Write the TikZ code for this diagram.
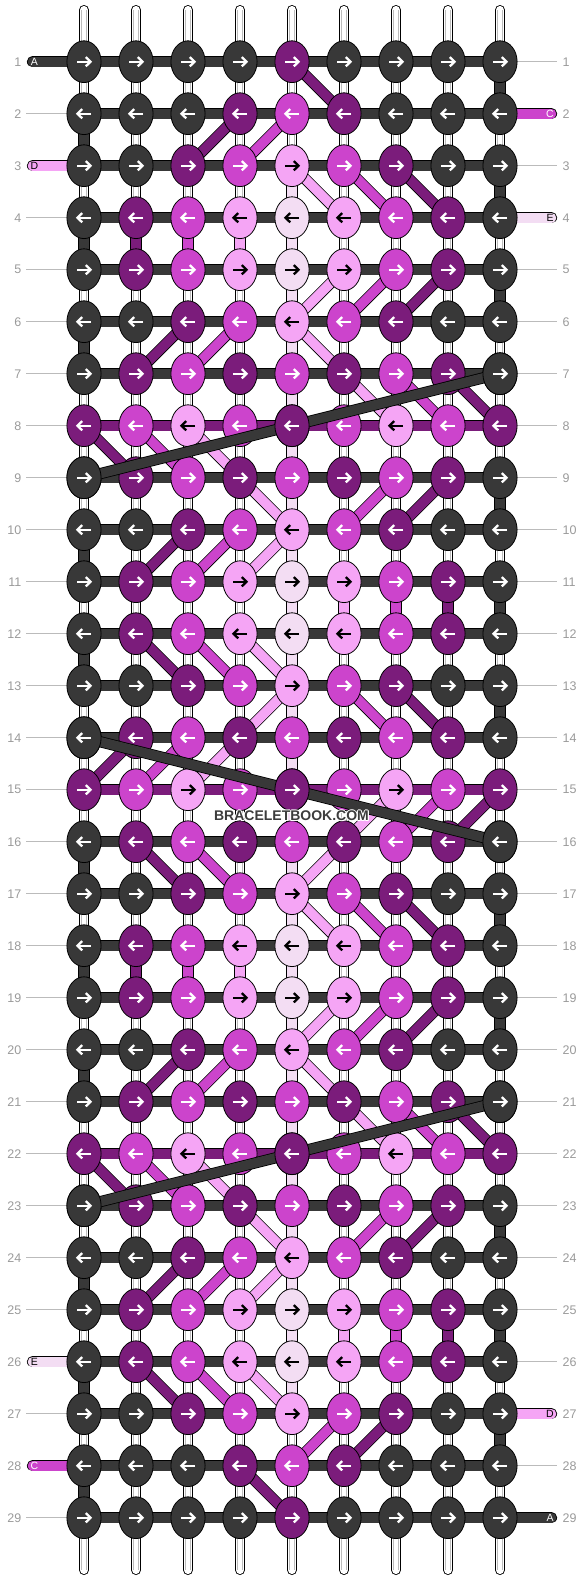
\documentclass[tikz,border=0pt]{standalone}
\usepackage{fontspec}
\setmainfont{Liberation Sans}
\usetikzlibrary{shapes.geometric}
\definecolor{cK}{HTML}{383838}
\definecolor{cP}{HTML}{7B1C7B}
\definecolor{cM}{HTML}{CC44CC}
\definecolor{cL}{HTML}{F5A5F5}
\definecolor{cW}{HTML}{F3DDF3}
\colorlet{aK}{white}
\colorlet{aP}{white}
\colorlet{aM}{white}
\colorlet{aL}{black}
\colorlet{aW}{black}
\definecolor{lblgray}{HTML}{9A9A9A}
\definecolor{linegray}{HTML}{BBBBBB}
\definecolor{wmark}{HTML}{3C3C3C}
\tikzset{
  strand/.style={draw=black, line width=0.8, double=#1, double distance=9.6},
  knot/.style={ellipse, draw=black, line width=0.8, minimum width=34.2, minimum height=41.8, inner sep=0},
  lbl/.style={font=\fontsize{12.5}{12.5}\selectfont, text=lblgray, inner sep=0},
  lblline/.style={draw=linegray, line width=1},
  stubtxt/.style={font=\fontsize{10.5}{10.5}\selectfont, inner sep=0},
  arr/.pic={
    \draw[line width=2.2] (-7,0) -- (5.6,0);
    \draw[line width=2.3, line join=miter, miter limit=10] (1.8,-4.6) -- (6.5,0) -- (1.8,4.6);
  }
}
\begin{document}
\begin{tikzpicture}[x=1pt,y=-1pt]
\useasboundingbox (0,0) rectangle (584,1580);
% grid coordinates
\foreach \rr in {1,...,29}{
  \foreach \cc in {1,...,9}{
    \coordinate (p-\rr-\cc) at ({32+52*\cc},{9.7+52*\rr});
  }
}
% row label guide lines
\foreach \rr in {2,4,5,6,7,8,9,10,11,12,13,14,15,16,17,18,19,20,21,22,23,24,25,27,29}{
  \coordinate (gl-\rr) at (26,{9.7+52*\rr});
  \draw[lblline] (gl-\rr) -- (p-\rr-1);
}
\foreach \rr in {1,3,5,6,7,8,9,10,11,12,13,14,15,16,17,18,19,20,21,22,23,24,25,26,28}{
  \coordinate (gr-\rr) at (557,{9.7+52*\rr});
  \draw[lblline] (p-\rr-9) -- (gr-\rr);
}
% white warp strings
\foreach \cc in {1,...,9}{
  \coordinate (st-\cc) at ({32+52*\cc},10);
  \coordinate (sb-\cc) at ({32+52*\cc},1570);
  \draw[line width=10, line cap=round, black] (st-\cc) -- (sb-\cc);
  \draw[line width=8.2, line cap=round, white] (st-\cc) -- (sb-\cc);
  \draw[line width=0.7, linegray] ([xshift=-2.6]st-\cc) -- ([xshift=-2.6]sb-\cc);
  \draw[line width=0.7, linegray] ([xshift=2.6]st-\cc) -- ([xshift=2.6]sb-\cc);
}
% vertical coloured segments
\foreach \rr in {3,...,26}{
  \pgfmathtruncatemacro\rn{\rr+1}
  \draw[strand=cW] (p-\rr-5) -- (p-\rn-5);
}
\foreach \rr/\cc/\cl in {4/2/P,4/3/M,4/4/L,11/6/L,11/7/M,11/8/P,18/2/P,18/3/M,18/4/L,25/6/L,25/7/M,25/8/P,
  1/9/K,3/9/K,5/9/K,9/9/K,11/9/K,13/9/K,17/9/K,19/9/K,23/9/K,25/9/K,27/9/K,
  2/1/K,4/1/K,6/1/K,10/1/K,12/1/K,16/1/K,18/1/K,20/1/K,24/1/K,26/1/K,28/1/K}{
  \pgfmathtruncatemacro\rn{\rr+1}
  \draw[strand=c\cl] (p-\rr-\cc) -- (p-\rn-\cc);
}
% horizontal bars
\foreach \rr in {1,...,29}{
  \draw[strand=cK] (p-\rr-1) -- (p-\rr-9);
}
\foreach \rr in {8,15,22}{
  \draw[strand=cP] (p-\rr-1) -- (p-\rr-9);
}
% end stubs
\foreach \rr/\cl/\lt/\tc in {1/K/A/white,3/L/D/black,26/W/E/black,28/M/C/white}{
  \coordinate (el-\rr) at (32.5,{9.7+52*\rr});
  \draw[strand=c\cl, line cap=round] (el-\rr) -- (p-\rr-1);
  \node[stubtxt, text=\tc] (tl-\rr) at ([xshift=2]el-\rr) {\lt};
}
\foreach \rr/\cl/\lt/\tc in {2/M/C/white,4/W/E/black,27/L/D/black,29/K/A/white}{
  \coordinate (er-\rr) at (551.5,{9.7+52*\rr});
  \draw[strand=c\cl, line cap=round] (p-\rr-9) -- (er-\rr);
  \node[stubtxt, text=\tc] (tr-\rr) at ([xshift=-1.5]er-\rr) {\lt};
}
% diagonal strands
\foreach \rr/\ca/\cb/\cl in {
  1/5/6/P,
  2/4/3/P, 2/5/4/M,
  3/5/6/L, 3/6/7/M, 3/7/8/P,
  5/6/5/L, 5/7/6/M, 5/8/7/P,
  6/3/2/P, 6/4/3/M, 6/5/6/L,
  7/6/7/L, 7/7/8/M, 7/8/9/P,
  8/1/2/P, 8/2/3/M, 8/3/4/L,
  9/4/5/L, 9/7/6/M, 9/8/7/P,
  10/3/2/P, 10/4/3/M, 10/5/4/L,
  12/2/3/P, 12/3/4/M, 12/4/5/L,
  13/5/4/L, 13/6/7/M, 13/7/8/P,
  14/4/3/L, 14/3/2/M, 14/2/1/P,
  15/7/6/L, 15/8/7/M, 15/9/8/P,
  16/2/3/P, 16/3/4/M, 16/6/5/L,
  17/5/6/L, 17/6/7/M, 17/7/8/P,
  19/6/5/L, 19/7/6/M, 19/8/7/P,
  20/3/2/P, 20/4/3/M, 20/5/6/L,
  21/6/7/L, 21/7/8/M, 21/8/9/P,
  22/1/2/P, 22/2/3/M, 22/3/4/L,
  23/4/5/L, 23/7/6/M, 23/8/7/P,
  24/3/2/P, 24/4/3/M, 24/5/4/L,
  26/2/3/P, 26/3/4/M, 26/4/5/L,
  27/6/5/M, 27/7/6/P,
  28/4/5/P}{
  \pgfmathtruncatemacro\rn{\rr+1}
  \draw[strand=c\cl] (p-\rr-\ca) -- (p-\rn-\cb);
}
% knots
\foreach \rr/\row in {
  1/{K,K,K,K,P,K,K,K,K},
  2/{K,K,K,P,M,P,K,K,K},
  3/{K,K,P,M,L,M,P,K,K},
  4/{K,P,M,L,W,L,M,P,K},
  5/{K,P,M,L,W,L,M,P,K},
  6/{K,K,P,M,L,M,P,K,K},
  7/{K,P,M,P,M,P,M,P,K},
  8/{P,M,L,M,P,M,L,M,P},
  9/{K,P,M,P,M,P,M,P,K},
  10/{K,K,P,M,L,M,P,K,K},
  11/{K,P,M,L,W,L,M,P,K},
  12/{K,P,M,L,W,L,M,P,K},
  13/{K,K,P,M,L,M,P,K,K},
  14/{K,P,M,P,M,P,M,P,K},
  15/{P,M,L,M,P,M,L,M,P},
  16/{K,P,M,P,M,P,M,P,K},
  17/{K,K,P,M,L,M,P,K,K},
  18/{K,P,M,L,W,L,M,P,K},
  19/{K,P,M,L,W,L,M,P,K},
  20/{K,K,P,M,L,M,P,K,K},
  21/{K,P,M,P,M,P,M,P,K},
  22/{P,M,L,M,P,M,L,M,P},
  23/{K,P,M,P,M,P,M,P,K},
  24/{K,K,P,M,L,M,P,K,K},
  25/{K,P,M,L,W,L,M,P,K},
  26/{K,P,M,L,W,L,M,P,K},
  27/{K,K,P,M,L,M,P,K,K},
  28/{K,K,K,P,M,P,K,K,K},
  29/{K,K,K,K,P,K,K,K,K}}{
  \foreach \cl [count=\cc] in \row {
    \node[knot, fill=c\cl] (k-\rr-\cc) at (p-\rr-\cc) {};
    \ifodd\rr\relax
      \pic[color=a\cl] at (k-\rr-\cc) {arr};
    \else
      \pic[color=a\cl, xscale=-1] at (k-\rr-\cc) {arr};
    \fi
  }
}
% long crossing bands of the dark thread (over the knots they pass)
\draw[strand=cK] (k-7-9.center) -- (k-9-1.center);
\draw[strand=cK] (k-14-1.center) -- (k-16-9.center);
\draw[strand=cK] (k-21-9.center) -- (k-23-1.center);
% knots that lie on top of the bands
\foreach \rr/\cc/\cl in {7/9/K,8/5/P,9/1/K,14/1/K,15/5/P,16/9/K,21/9/K,22/5/P,23/1/K}{
  \node[knot, fill=c\cl] (kt-\rr-\cc) at (p-\rr-\cc) {};
  \ifodd\rr\relax
    \pic[color=a\cl] at (kt-\rr-\cc) {arr};
  \else
    \pic[color=a\cl, xscale=-1] at (kt-\rr-\cc) {arr};
  \fi
}
% row numbers
\foreach \rr in {1,...,29}{
  \node[lbl, anchor=east] (nl-\rr) at (21.5,{9.7+52*\rr}) {\rr};
  \node[lbl, anchor=west] (nr-\rr) at (562.5,{9.7+52*\rr}) {\rr};
}
% watermark
\foreach \dx/\dy in {-1/0,1/0,0/-1,0/1,-0.8/-0.8,0.8/0.8,-0.8/0.8,0.8/-0.8}{
  \node[font=\bfseries\fontsize{14}{14}\selectfont, text=white, inner sep=0] at ({291.5+\dx},{816+\dy}) {BRACELETBOOK.COM};
}
\node[font=\bfseries\fontsize{14}{14}\selectfont, text=wmark, inner sep=0] (wm) at (291.5,816) {BRACELETBOOK.COM};
\end{tikzpicture}
\end{document}
